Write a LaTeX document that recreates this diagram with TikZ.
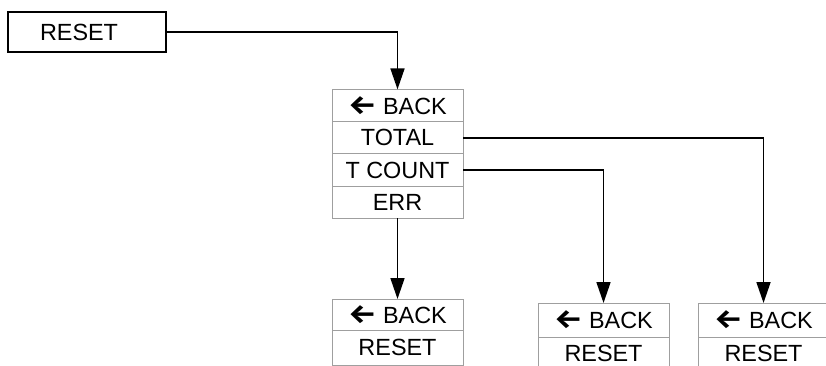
\documentclass[tikz,border=0pt]{standalone}
\usepackage{graphicx}
\usepackage{fontspec}
\setmainfont{Liberation Sans}
\newfontfamily\arrowfont{Fira Sans}
\usetikzlibrary{positioning,arrows.meta}

\newcommand{\backarrow}{\scalebox{1.35}[1.15]{\arrowfont\bfseries ←}}

\tikzset{
  menurow/.style={draw=gray!75, line width=0.8pt, minimum width=131pt,
    minimum height=32.25pt, inner sep=0pt, outer sep=0pt,
    font=\fontsize{23.4}{28}\selectfont},
  topbox/.style={draw, line width=1.6pt, minimum width=158pt,
    minimum height=40pt, inner xsep=32pt, inner ysep=0pt,
    text width=94pt, align=left,
    font=\fontsize{23.4}{28}\selectfont},
  link/.style={line width=1.7pt, -{Triangle[length=21pt,width=14pt]}},
}

\begin{document}
\begin{tikzpicture}[x=1pt, y=-1pt, node distance=0pt]
\useasboundingbox (0,0) rectangle (826,365);
\clip (0,0) rectangle (826,365);

\node[topbox] (reset) at (87,32) {RESET};

% main menu
\node[menurow] (back) at (397.5,105.5) {\backarrow\ BACK};
\node[menurow, below=of back] (total) {TOTAL};
\node[menurow, below=of total] (tcount) {T COUNT};
\node[menurow, below=of tcount] (err) {ERR};

% sub menus
\node[menurow, minimum height=31pt] (errback) at (397.5,314.5) {\backarrow\ BACK};
\node[menurow, minimum height=35pt, below=of errback] (errreset) {RESET};
\node[menurow, minimum height=34pt] (tcback) at (603.5,320) {\backarrow\ BACK};
\node[menurow, minimum height=32pt, below=of tcback] (tcreset) {RESET};
\node[menurow, minimum height=34pt] (totback) at (763.5,320) {\backarrow\ BACK};
\node[menurow, minimum height=32pt, below=of totback] (totreset) {RESET};

\draw[link] (reset.east) -| (back.north);
\draw[link] (total.east) -| (totback.north);
\draw[link] (tcount.east) -| (tcback.north);
\draw[link] (err.south) -- (errback.north);
\end{tikzpicture}
\end{document}
